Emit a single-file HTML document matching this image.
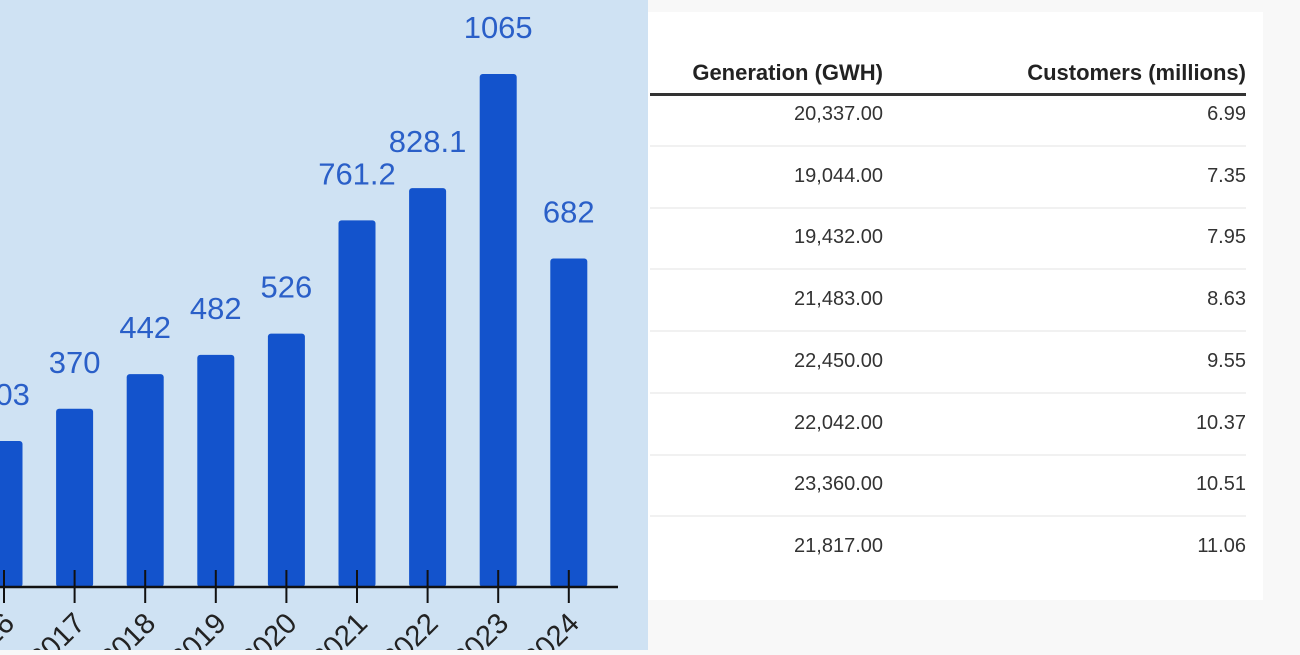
<!DOCTYPE html>
<html><head><meta charset="utf-8"><style>
body{margin:0;width:1300px;height:650px;overflow:hidden;background:#f8f8f8;font-family:"Liberation Sans",sans-serif;position:relative}
#chart{position:absolute;left:0;top:0;width:648px;height:650px;background:#cfe2f3}
#card{position:absolute;left:648px;top:12px;width:615px;height:588px;background:#fff}
.th{position:absolute;top:48px;font-weight:bold;font-size:22px;color:#222;font-family:"Liberation Sans Narrow","Liberation Sans",sans-serif;text-align:right}
.hline{position:absolute;left:2px;top:81px;width:596px;height:3px;background:#333}
.cell{position:absolute;font-size:20px;color:#333;text-align:right;font-family:"Liberation Sans Narrow","Liberation Sans",sans-serif}
.sep{position:absolute;left:2px;width:596px;height:2px;background:#f1f1f1}
</style></head><body>
<div id="chart">
<svg id="svg" width="648" height="650"></svg>
</div>
<div id="card">
<div class="th" style="left:0;width:235px">Generation (GWH)</div>
<div class="th" style="left:300px;width:298px">Customers (millions)</div>
<div class="hline"></div>
<div id="rows"></div>
</div>
<script>
const years=["2016","2017","2018","2019","2020","2021","2022","2023","2024"];
const values=[303,370,442,482,526,761.2,828.1,1065,682];
const labels=["303","370","442","482","526","761.2","828.1","1065","682"];
const generation=["20,337.00","19,044.00","19,432.00","21,483.00","22,450.00","22,042.00","23,360.00","21,817.00"];
const customers=["6.99","7.35","7.95","8.63","9.55","10.37","10.51","11.06"];
const NS="http://www.w3.org/2000/svg";
const svg=document.getElementById('svg');
const base=587, scale=513/1065;
const xc=i=>4+i*70.6;
const yv=v=>base-v*scale;
function mk(t,a){const e=document.createElementNS(NS,t);for(const k in a)e.setAttribute(k,a[k]);svg.appendChild(e);return e;}
values.forEach((v,i)=>{
 const b=mk('rect',{x:xc(i)-18.5,y:yv(v),width:37,height:base-yv(v),rx:3,fill:'#1353cc'});
 
 
 const t=mk('text',{x:xc(i),y:yv(v)-36,'text-anchor':'middle','font-size':31,fill:'#2a5fc8','font-family':'Liberation Sans, sans-serif'});
 t.textContent=labels[i];
 
 
 const tk=mk('line',{x1:xc(i),x2:xc(i),y1:570,y2:603,stroke:'#111','stroke-width':2});
 
 
 const xl=mk('text',{x:xc(i)+12,y:625,'text-anchor':'end','font-size':29,fill:'#222',transform:`rotate(-45 ${xc(i)+12} 625)`,'font-family':'Liberation Sans, sans-serif'});
 xl.textContent=years[i];
 
 
});
const ax=mk('line',{x1:0,x2:618,y1:587,y2:587,stroke:'#111','stroke-width':2.5});


const rows=document.getElementById('rows');
generation.forEach((g,i)=>{
 const y=114+i*61.7-12;
 const c1=document.createElement('div');c1.className='cell';c1.style.cssText=`left:0;width:235px;top:${y-11}px`;c1.textContent=g;
 
 
 const c2=document.createElement('div');c2.className='cell';c2.style.cssText=`left:400px;width:198px;top:${y-11}px`;c2.textContent=customers[i];
 
 
 rows.appendChild(c1);rows.appendChild(c2);
 if(i<generation.length-1){const s=document.createElement('div');s.className='sep';s.style.top=(y+31)+'px';
 
 
 rows.appendChild(s);}
});
</script>
</body></html>
